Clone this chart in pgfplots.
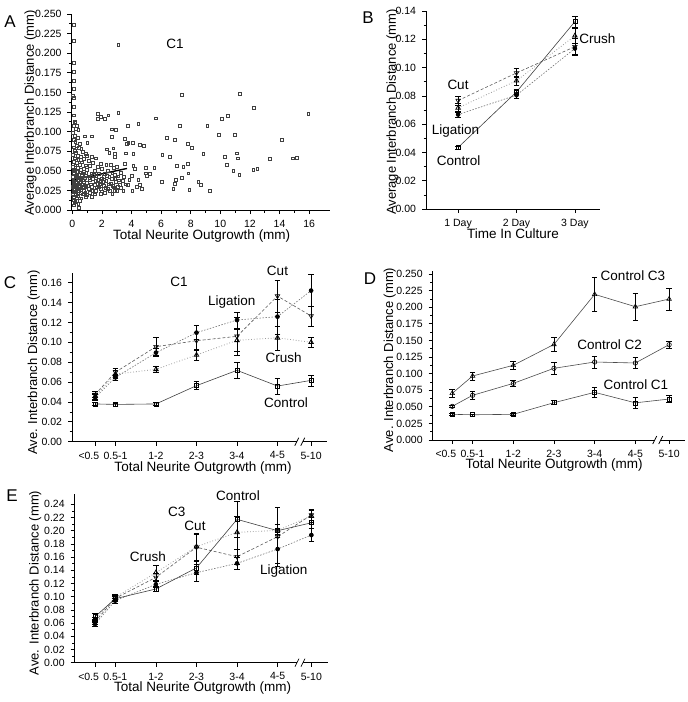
\documentclass[border=0pt]{standalone}
\usepackage{fontspec}
\setmainfont{Liberation Sans}
\usepackage{pgfplots}
\pgfplotsset{compat=1.18}
\newcommand\fsz[1]{\fontsize{#1}{#1}\selectfont}
\pgfplotsset{
  panel/.style={scale only axis, anchor=south west,
    axis x line*=bottom, axis y line*=left, axis line style={-, line width=0.8pt, black},
    tick align=outside, major tick length=4pt, minor tick length=2.5pt,
    every tick/.style={black, line width=0.7pt},
    tick label style={font=\fsz{10.5}},
    xticklabel style={yshift=-2.5pt},
    /pgf/number format/assume math mode=true, scaled ticks=false, clip=false,
    yticklabel style={xshift=-2.5pt, /pgf/number format/fixed, /pgf/number format/fixed zerofill},
    every axis x label/.style={font=\fsz{13.5}, anchor=center},
    every axis y label/.style={font=\fsz{13}, anchor=center, rotate=90},
  },
  errs/.style={error bars/y dir=both, error bars/y explicit,
    error bars/error mark options={rotate=90, mark size=2.8pt, line width=0.5pt, black, solid},
    error bars/error bar style={line width=0.5pt, black, solid}},
  ctrl/.style={black!75, line width=0.6pt, mark=square, mark size=2pt, mark options={solid, fill=white, draw=black}},
  crush/.style={black!40, dotted, line width=0.8pt, mark=triangle, mark size=2.6pt, mark options={solid, fill=white, draw=black}},
  cut/.style={black!65, dash pattern=on 3pt off 2pt, line width=0.6pt, mark=triangle, mark size=2.6pt, mark options={solid, fill=white, draw=black, rotate=180}},
  lig/.style={black!55, dash pattern=on 1.5pt off 1.5pt, line width=0.6pt, mark=*, mark size=2pt, mark options={solid, fill=black, draw=black}},
  cat/.style={xtick={0,0.5,1.5,2.5,3.5,4.5,5.33}, xticklabels={\makebox[0pt][r]{<0.5\kern-4pt},0.5-1,1-2,2-3,3-4,4-5,5-10}},
}
\begin{document}
\begin{tikzpicture}
\path[use as bounding box] (0pt,0pt) rectangle (688pt,-702pt);

% ---------------- A ----------------
\begin{axis}[panel, at={(71.5pt,-210pt)}, width=258.4pt, height=196pt,
  xmin=-0.05, xmax=17.4, ymin=0, ymax=0.25,
  xtick={0,2,4,6,8,10,12,14,16}, minor x tick num=1,
  ytick={0,0.025,0.05,0.075,0.1,0.125,0.15,0.175,0.2,0.225,0.25}, minor y tick num=1,
  yticklabel style={/pgf/number format/precision=3},
  xlabel={Total Neurite Outgrowth (mm)}, ylabel={Average Interbranch Distance (mm)},
  xlabel style={at={(axis description cs:0.504,-0.133)}},
  ylabel style={at={(axis description cs:-0.159,0.495)}}]
\addplot[only marks, mark=square, mark size=1.4pt, black!75, mark options={line width=0.45pt}] coordinates {
(0.1,0.236) (0.1,0.216) (0.12,0.188) (0.1,0.176) (0.08,0.165) (0.1,0.155) (0.05,0.146) (0.1,0.143)
(0.12,0.132) (0.1,0.121) (0.15,0.113) (0.2,0.111) (0.1,0.108) (0.3,0.107) (0.25,0.104) (0.4,0.102)
(0.05,0.099) (0.15,0.095) (0.1,0.090) (0.35,0.092) (0.2,0.087) (0.5,0.085) (0.3,0.082) (0.08,0.080)
(0.45,0.079) (0.6,0.078) (0.15,0.076) (0.25,0.073) (0.7,0.074) (0.9,0.072) (0.05,0.071) (0.35,0.069)
(0.55,0.068) (1.0,0.069) (1.3,0.068) (1.6,0.066) (0.15,0.066) (0.8,0.065) (0.4,0.064) (1.1,0.063)
(0.1,0.062) (0.65,0.061) (0.3,0.060) (1.4,0.060) (1.9,0.059) (2.3,0.058) (2.6,0.058) (0.5,0.058)
(0.2,0.057) (0.9,0.057) (1.2,0.056) (1.7,0.055) (0.05,0.055) (0.35,0.054) (0.75,0.053) (2.0,0.053)
(2.8,0.054) (3.0,0.055) (0.15,0.052) (0.55,0.051) (1.0,0.051) (1.5,0.050) (2.4,0.050) (0.3,0.049)
(0.1,0.048) (0.7,0.047) (1.3,0.047) (1.8,0.046) (2.2,0.046) (2.7,0.047) (3.3,0.048) (0.45,0.045)
(0.2,0.044) (0.9,0.044) (1.1,0.043) (1.6,0.043) (2.5,0.042) (3.1,0.043) (0.05,0.042) (0.35,0.041)
(0.6,0.040) (1.4,0.040) (2.0,0.040) (2.9,0.040) (0.15,0.039) (0.8,0.038) (1.2,0.038) (1.9,0.037)
(2.3,0.037) (3.4,0.037) (0.25,0.036) (0.5,0.035) (1.0,0.035) (1.7,0.034) (2.6,0.034) (0.1,0.034)
(0.4,0.033) (0.7,0.032) (1.5,0.032) (2.1,0.031) (3.2,0.032) (0.2,0.031) (0.9,0.030) (1.3,0.030)
(1.8,0.029) (2.8,0.029) (0.05,0.029) (0.3,0.028) (0.6,0.028) (1.1,0.027) (2.4,0.027) (0.15,0.026)
(0.45,0.025) (0.8,0.025) (1.6,0.025) (2.0,0.024) (3.0,0.025) (0.25,0.024) (0.1,0.023) (0.55,0.022)
(1.2,0.022) (1.9,0.021) (2.2,0.022) (2.7,0.021) (0.35,0.021) (0.05,0.020) (0.7,0.020) (1.0,0.019)
(1.5,0.020) (0.2,0.019) (0.4,0.018) (0.9,0.017) (1.3,0.017) (0.12,0.016) (0.3,0.015) (0.6,0.015)
(0.08,0.013) (0.2,0.012) (0.5,0.012) (0.15,0.010) (0.4,0.008) (0.1,0.006) (0.45,0.003)
(0.05,0.030) (0.1,0.027) (0.18,0.033) (0.22,0.040) (0.28,0.045) (0.12,0.050) (0.38,0.049) (0.06,0.038)
(0.32,0.030) (0.42,0.027) (0.5,0.030) (0.16,0.023) (0.26,0.020) (0.48,0.041) (0.58,0.036) (0.65,0.033)
(0.62,0.045) (0.7,0.038) (0.85,0.041) (0.95,0.048) (0.78,0.029) (0.88,0.022) (1.05,0.031) (1.15,0.041)
(1.25,0.033) (1.35,0.025) (1.45,0.045) (1.55,0.037) (1.65,0.029) (1.75,0.039) (1.85,0.033) (1.95,0.027)
(2.05,0.036) (2.15,0.042) (2.25,0.028) (2.35,0.044) (2.45,0.033) (2.55,0.025) (2.65,0.040) (2.75,0.031)
(2.85,0.045) (2.95,0.036) (3.05,0.030) (3.15,0.038) (3.25,0.028) (3.5,0.042) (3.6,0.033)
(3.1,0.211) (7.38,0.147) (11.32,0.148) (12.26,0.1305) (15.93,0.123)
(1.71,0.123) (1.9,0.119) (2.43,0.121) (2.2,0.116) (1.71,0.116) (3.1,0.1245)
(5.65,0.117) (10.08,0.116) (10.49,0.120) (7.27,0.108) (9.11,0.108) (3.73,0.107) (4.46,0.110)
(2.66,0.103) (2.93,0.102) (0.86,0.094) (1.3,0.094) (1.01,0.086)
(9.9,0.0957) (10.98,0.0957) (6.37,0.0927) (6.93,0.090) (2.68,0.093) (3.56,0.091) (3.78,0.086)
(3.67,0.085) (4.07,0.086) (4.57,0.083) (4.84,0.082) (7.79,0.085) (8.06,0.079) (14.13,0.0893)
(2.32,0.0774) (2.5,0.0731) (2.77,0.0787) (2.88,0.0714) (2.88,0.068) (3.62,0.0723) (4.12,0.0714)
(6.08,0.070) (6.59,0.068) (8.84,0.0714) (10.31,0.068) (11.1,0.0723) (11.16,0.066) (13.34,0.065)
(14.87,0.066) (15.14,0.0668)
(3.56,0.0587) (4.12,0.0565) (4.23,0.0531) (4.95,0.0468) (4.95,0.054) (5.54,0.0544) (6.03,0.036)
(7.04,0.0565) (7.49,0.0553) (7.79,0.0595) (7.83,0.0468) (7.38,0.0412) (6.98,0.0383) (6.93,0.034)
(6.82,0.0276) (8.51,0.036) (8.69,0.0319) (9.29,0.0247) (7.9,0.0255) (10.42,0.0574) (10.87,0.0502)
(11.27,0.0455) (12.22,0.051) (12.49,0.0523)
(5.02,0.0434) (5.24,0.046) (4.46,0.0383) (4.57,0.0327) (4.34,0.0298) (4.68,0.0268) (4.05,0.0247)
(3.44,0.0247) (3.74,0.0319) (3.85,0.0383) (4.0,0.0438) (2.88,0.0247)
};
\addplot[black, line width=1.4pt] coordinates {(0,0.038) (3.7,0.053)};
\end{axis}

% ---------------- B ----------------
\begin{axis}[panel, at={(426pt,-209pt)}, width=174pt, height=198pt,
  xmin=0.45, xmax=3.43, ymin=0, ymax=0.14,
  xtick={1,2,3}, xticklabels={1 Day,2 Day,3 Day},
  ytick={0,0.02,0.04,0.06,0.08,0.1,0.12,0.14}, minor y tick num=1,
  yticklabel style={/pgf/number format/precision=2},
  xlabel={Time In Culture}, ylabel={Average Interbranch Distance (mm)},
  xlabel style={at={(axis description cs:0.5,-0.126)}},
  ylabel style={at={(axis description cs:-0.193,0.49)}}]
\addplot[crush, errs] coordinates {(1,0.0715) +- (0,0.003) (2,0.0907) +- (0,0.003) (3,0.1225) +- (0,0.005)};
\addplot[lig, errs] coordinates {(1,0.0668) +- (0,0.002) (2,0.0805) +- (0,0.002) (3,0.1135) +- (0,0.004)};
\addplot[cut, errs] coordinates {(1,0.0767) +- (0,0.003) (2,0.0962) +- (0,0.003) (3,0.1148) +- (0,0.006)};
\addplot[ctrl, errs] coordinates {(1,0.0435) +- (0,0.001) (2,0.0828) +- (0,0.002) (3,0.1325) +- (0,0.004)};
\end{axis}

% ---------------- C ----------------
\begin{axis}[panel, cat, at={(72pt,-441.7pt)}, width=254.9pt, height=169pt,
  xmin=-0.574, xmax=5.72, ymin=0, ymax=0.17,
  ytick={0,0.02,0.04,0.06,0.08,0.1,0.12,0.14,0.16}, minor y tick num=1,
  yticklabel style={/pgf/number format/precision=2},
  xlabel={Total Neurite Outgrowth (mm)}, ylabel={Ave. Interbranch Distance (mm)},
  xlabel style={at={(axis description cs:0.514,-0.158)}},
  ylabel style={at={(axis description cs:-0.150,0.469)}}]
\addplot[crush, errs] coordinates {(0,0.046) +- (0,0.003) (0.5,0.068) +- (0,0.004) (1.5,0.0728) +- (0,0.003) (2.5,0.0872) +- (0,0.005) (3.5,0.102) +- (0,0.011) (4.5,0.1045) +- (0,0.012) (5.33,0.100) +- (0,0.005)};
\addplot[cut, errs] coordinates {(0,0.0476) +- (0,0.003) (0.5,0.070) +- (0,0.004) (1.5,0.0956) +- (0,0.009) (2.5,0.1016) +- (0,0.009) (3.5,0.106) +- (0,0.019) (4.5,0.1465) +- (0,0.016) (5.33,0.1265) +- (0,0.010)};
\addplot[lig, errs] coordinates {(0,0.0446) +- (0,0.003) (0.5,0.0647) +- (0,0.003) (1.5,0.0896) +- (0,0.004) (2.5,0.1097) +- (0,0.007) (3.5,0.1224) +- (0,0.008) (4.5,0.1258) +- (0,0.0175) (5.33,0.152) +- (0,0.016)};
\addplot[ctrl, errs] coordinates {(0,0.038) +- (0,0.0015) (0.5,0.0375) +- (0,0.0015) (1.5,0.038) +- (0,0.0015) (2.5,0.0564) +- (0,0.004) (3.5,0.0718) +- (0,0.0077) (4.5,0.056) +- (0,0.0082) (5.33,0.0617) +- (0,0.0055)};
\coordinate (cbrk) at (axis cs:5.05,0);
\end{axis}

% ---------------- D ----------------
\begin{axis}[panel, cat, at={(432.7pt,-440pt)}, width=252.3pt, height=169.3pt,
  xmin=-0.48, xmax=5.72, ymin=0, ymax=0.255,
  ytick={0,0.025,0.05,0.075,0.1,0.125,0.15,0.175,0.2,0.225,0.25}, minor y tick num=1,
  yticklabel style={/pgf/number format/precision=3},
  xlabel={Total Neurite Outgrowth (mm)}, ylabel={Ave. Interbranch Distance (mm)},
  xlabel style={at={(axis description cs:0.481,-0.150)}},
  ylabel style={at={(axis description cs:-0.170,0.473)}}]
\addplot[black!70, line width=0.6pt, mark=square, mark size=2pt, mark options={fill=white, draw=black}, errs] coordinates {(0,0.0387) +- (0,0.0015) (0.5,0.038) +- (0,0.0015) (1.5,0.0387) +- (0,0.0015) (2.5,0.0562) +- (0,0.003) (3.5,0.0718) +- (0,0.0075) (4.5,0.056) +- (0,0.008) (5.33,0.0617) +- (0,0.005)};
\addplot[black!70, line width=0.6pt, mark=o, mark size=2.2pt, mark options={fill=white, draw=black}, errs] coordinates {(0,0.0507) +- (0,0.002) (0.5,0.0673) +- (0,0.006) (1.5,0.0853) +- (0,0.005) (2.5,0.108) +- (0,0.0095) (3.5,0.1175) +- (0,0.009) (4.5,0.116) +- (0,0.008) (5.33,0.1436) +- (0,0.005)};
\addplot[black!70, line width=0.6pt, mark=triangle, mark size=2.6pt, mark options={fill=white, draw=black}, errs] coordinates {(0,0.0703) +- (0,0.006) (0.5,0.0964) +- (0,0.006) (1.5,0.1125) +- (0,0.006) (2.5,0.144) +- (0,0.011) (3.5,0.2194) +- (0,0.025) (4.5,0.2008) +- (0,0.02) (5.33,0.2123) +- (0,0.017)};
\coordinate (dbrk) at (axis cs:5.05,0);
\end{axis}

% ---------------- E ----------------
\begin{axis}[panel, cat, at={(74.7pt,-662.7pt)}, width=253.3pt, height=168.3pt,
  xmin=-0.5, xmax=5.74, ymin=0, ymax=0.255,
  ytick={0,0.02,0.04,0.06,0.08,0.1,0.12,0.14,0.16,0.18,0.2,0.22,0.24}, minor y tick num=1,
  yticklabel style={/pgf/number format/precision=2},
  xlabel={Total Neurite Outgrowth (mm)}, ylabel={Ave. Interbranch Distance (mm)},
  xlabel style={at={(axis description cs:0.505,-0.152)}},
  ylabel style={at={(axis description cs:-0.156,0.474)}}]
\addplot[crush, errs] coordinates {(0,0.065) +- (0,0.004) (0.5,0.099) +- (0,0.004) (1.5,0.1364) +- (0,0.011) (2.5,0.1758) +- (0,0.02) (3.5,0.1975) +- (0,0.025) (4.5,0.2005) +- (0,0.01) (5.33,0.2225) +- (0,0.01)};
\addplot[cut, errs] coordinates {(0,0.062) +- (0,0.004) (0.5,0.0975) +- (0,0.004) (1.5,0.1293) +- (0,0.006) (2.5,0.175) +- (0,0.02) (3.5,0.1606) +- (0,0.012) (4.5,0.191) +- (0,0.045) (5.33,0.2237) +- (0,0.008)};
\addplot[lig, errs] coordinates {(0,0.0586) +- (0,0.004) (0.5,0.094) +- (0,0.004) (1.5,0.1187) +- (0,0.005) (2.5,0.1364) +- (0,0.013) (3.5,0.1505) +- (0,0.009) (4.5,0.1722) +- (0,0.022) (5.33,0.1934) +- (0,0.01)};
\addplot[ctrl, errs] coordinates {(0,0.0697) +- (0,0.005) (0.5,0.097) +- (0,0.004) (1.5,0.1117) +- (0,0.004) (2.5,0.1437) +- (0,0.01) (3.5,0.2172) +- (0,0.027) (4.5,0.200) +- (0,0.01) (5.33,0.212) +- (0,0.008)};
\coordinate (ebrk) at (axis cs:5.05,0);
\end{axis}

% axis breaks
\foreach \b in {cbrk,dbrk,ebrk}{
  \draw[white, line width=2.5pt] ([xshift=-3pt]\b) -- ([xshift=3pt]\b);
  \draw[black, line width=0.7pt] ([xshift=-5pt,yshift=-4pt]\b) -- ([xshift=-1pt,yshift=4pt]\b);
  \draw[black, line width=0.7pt] ([xshift=1pt,yshift=-4pt]\b) -- ([xshift=5pt,yshift=4pt]\b);
}

% panel letters
\begin{scope}[every node/.style={font=\fsz{17}}]
\node at (10pt,-22pt) {A};
\node at (368pt,-18pt) {B};
\node at (10pt,-283pt) {C};
\node at (370pt,-279pt) {D};
\node at (12pt,-496pt) {E};
\end{scope}

% annotations
\begin{scope}[every node/.style={font=\fsz{13.5}}]
\node at (175pt,-44pt) {C1};
\node at (458pt,-85pt) {Cut};
\node at (455.5pt,-131pt) {Ligation};
\node at (458.7pt,-161pt) {Control};
\node at (597.5pt,-39pt) {Crush};
\node at (179pt,-282pt) {C1};
\node at (277.5pt,-271pt) {Cut};
\node at (231.7pt,-302pt) {Ligation};
\node at (283.7pt,-358pt) {Crush};
\node at (286pt,-402.5pt) {Control};
\node at (633pt,-276pt) {Control C3};
\node at (609.7pt,-345pt) {Control C2};
\node at (636pt,-385pt) {Control C1};
\node at (238pt,-496pt) {Control};
\node at (176.7pt,-512pt) {C3};
\node at (195pt,-526pt) {Cut};
\node at (148pt,-557pt) {Crush};
\node at (283.7pt,-571pt) {Ligation};
\end{scope}
\end{tikzpicture}
\end{document}
